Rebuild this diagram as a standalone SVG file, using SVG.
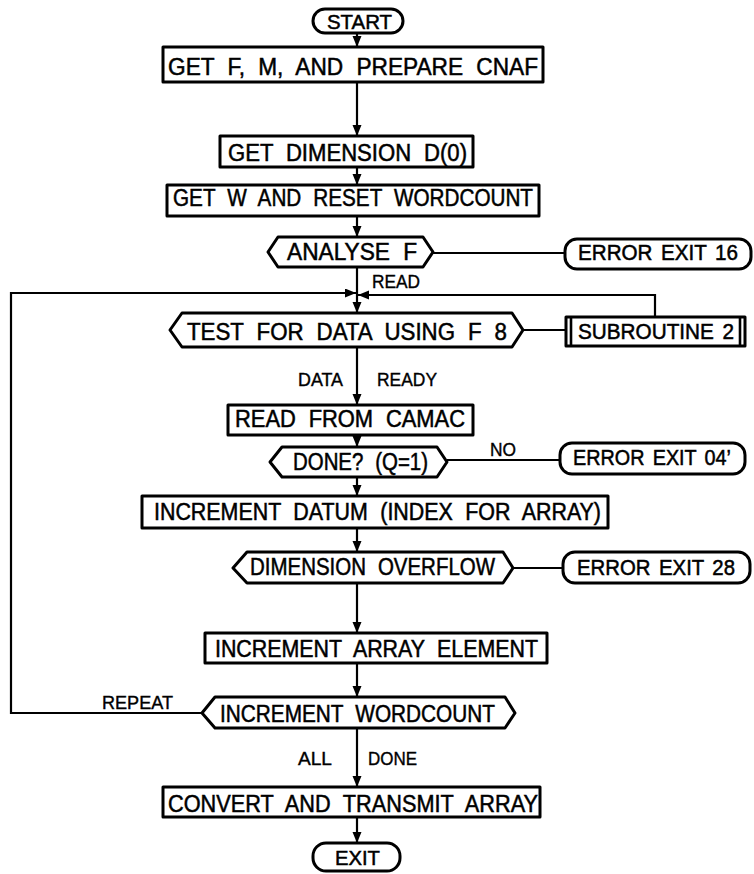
<svg xmlns="http://www.w3.org/2000/svg" width="754" height="874" viewBox="0 0 754 874">
  <style>
    .shape { fill: #fff; stroke: #000; stroke-width: 3; stroke-linejoin: round; }
    .wire { fill: none; stroke: #000; stroke-width: 2.2; }
    .bar { fill: none; stroke: #000; stroke-width: 2.6; }
    .t { font-family: "Liberation Sans", Arial, sans-serif; font-size: 23px; word-spacing: 7px; fill: #000; stroke: #000; stroke-width: 0.5; text-anchor: middle; }
    .e { font-family: "Liberation Sans", Arial, sans-serif; font-size: 21.5px; word-spacing: 3px; fill: #000; stroke: #000; stroke-width: 0.5; text-anchor: middle; }
    .s { font-family: "Liberation Sans", Arial, sans-serif; font-size: 19px; fill: #000; stroke: #000; stroke-width: 0.4; text-anchor: middle; }
  </style>
  <defs>
    <marker id="arrow" markerUnits="userSpaceOnUse" markerWidth="12" markerHeight="10" refX="11" refY="4.5" orient="auto">
      <path d="M0,0 L11,4.5 L0,9 Z" fill="#000"/>
    </marker>
  </defs>

  <!-- connectors -->
  <g id="connectors">
    <line class="wire" x1="357" y1="33" x2="357" y2="47" marker-end="url(#arrow)"/>
    <line class="wire" x1="357" y1="82" x2="357" y2="136" marker-end="url(#arrow)"/>
    <line class="wire" x1="357" y1="167" x2="357" y2="185" marker-end="url(#arrow)"/>
    <line class="wire" x1="357" y1="216" x2="357" y2="237" marker-end="url(#arrow)"/>
    <line class="wire" x1="433" y1="253" x2="565" y2="253"/>
    <line class="wire" x1="357" y1="267" x2="357" y2="313" marker-end="url(#arrow)"/>
    <polyline class="wire" points="202,713 11,713 11,293 356,293" marker-end="url(#arrow)"/>
    <polyline class="wire" points="655,317 655,295 358,295" marker-end="url(#arrow)"/>
    <line class="wire" x1="523" y1="330" x2="566" y2="330"/>
    <line class="wire" x1="357" y1="347" x2="357" y2="405" marker-end="url(#arrow)"/>
    <line class="wire" x1="357" y1="435" x2="357" y2="447" marker-end="url(#arrow)"/>
    <line class="wire" x1="447" y1="460" x2="560" y2="460"/>
    <line class="wire" x1="357" y1="477" x2="357" y2="496" marker-end="url(#arrow)"/>
    <line class="wire" x1="357" y1="528" x2="357" y2="552" marker-end="url(#arrow)"/>
    <line class="wire" x1="513" y1="568" x2="563" y2="568"/>
    <line class="wire" x1="357" y1="583" x2="357" y2="633" marker-end="url(#arrow)"/>
    <line class="wire" x1="357" y1="663" x2="357" y2="697" marker-end="url(#arrow)"/>
    <line class="wire" x1="357" y1="728" x2="357" y2="787" marker-end="url(#arrow)"/>
    <line class="wire" x1="357" y1="817" x2="357" y2="843" marker-end="url(#arrow)"/>
    <text class="s" x="396" y="288" textLength="48" lengthAdjust="spacingAndGlyphs">READ</text>
    <text class="s" x="320.5" y="386" textLength="45" lengthAdjust="spacingAndGlyphs">DATA</text>
    <text class="s" x="407" y="386" textLength="60" lengthAdjust="spacingAndGlyphs">READY</text>
    <text class="s" x="503" y="456" textLength="26" lengthAdjust="spacingAndGlyphs">NO</text>
    <text class="s" x="137.5" y="709" textLength="71" lengthAdjust="spacingAndGlyphs">REPEAT</text>
    <text class="s" x="315" y="765" textLength="34" lengthAdjust="spacingAndGlyphs">ALL</text>
    <text class="s" x="392.5" y="765" textLength="49" lengthAdjust="spacingAndGlyphs">DONE</text>
  </g>

  <!-- nodes -->
  <g id="start">
    <rect class="shape" x="313" y="9" width="90" height="24" rx="12"/>
    <text class="t" style="font-size:21px" x="359.5" y="29" textLength="65" lengthAdjust="spacingAndGlyphs">START</text>
  </g>
  <g id="get-f-m">
    <rect class="shape" x="163" y="47" width="380" height="35"/>
    <text class="t" x="353" y="75" textLength="370" lengthAdjust="spacingAndGlyphs">GET F, M, AND PREPARE CNAF</text>
  </g>
  <g id="get-dimension">
    <rect class="shape" x="220" y="136" width="253" height="31"/>
    <text class="t" x="347.5" y="161" textLength="239" lengthAdjust="spacingAndGlyphs">GET DIMENSION D(0)</text>
  </g>
  <g id="get-w">
    <rect class="shape" x="167" y="185" width="372" height="31"/>
    <text class="t" x="353" y="206" textLength="360" lengthAdjust="spacingAndGlyphs">GET W AND RESET WORDCOUNT</text>
  </g>
  <g id="analyse-f">
    <polygon class="shape" points="268,252 278,237 423,237 433,252 423,267 278,267"/>
    <text class="t" x="352" y="260" textLength="130" lengthAdjust="spacingAndGlyphs">ANALYSE F</text>
  </g>
  <g id="error-exit-16">
    <rect class="shape" x="565" y="239" width="186" height="30" rx="12"/>
    <text class="e" x="658" y="260" textLength="160" lengthAdjust="spacingAndGlyphs">ERROR EXIT 16</text>
  </g>
  <g id="test-for-data">
    <polygon class="shape" points="170,330 182,313 512,313 523,330 512,347 182,347"/>
    <text class="t" x="347" y="340" textLength="320" lengthAdjust="spacingAndGlyphs">TEST FOR DATA USING F 8</text>
  </g>
  <g id="subroutine-2">
    <rect class="shape" x="566" y="317" width="179" height="29"/>
    <line class="bar" x1="571" y1="317" x2="571" y2="346"/>
    <line class="bar" x1="740" y1="317" x2="740" y2="346"/>
    <text class="e" x="656" y="339" textLength="156" lengthAdjust="spacingAndGlyphs">SUBROUTINE 2</text>
  </g>
  <g id="read-from-camac">
    <rect class="shape" x="228" y="405" width="245" height="30"/>
    <text class="t" x="350" y="427" textLength="230" lengthAdjust="spacingAndGlyphs">READ FROM CAMAC</text>
  </g>
  <g id="done-q">
    <polygon class="shape" points="270,462 282,447 437,447 447,462 437,477 282,477"/>
    <text class="t" x="360.5" y="470" textLength="135" lengthAdjust="spacingAndGlyphs">DONE? (Q=1)</text>
  </g>
  <g id="error-exit-04">
    <rect class="shape" x="560" y="443" width="185" height="31" rx="12"/>
    <text class="e" x="652" y="465" textLength="158" lengthAdjust="spacingAndGlyphs">ERROR EXIT 04’</text>
  </g>
  <g id="increment-datum">
    <rect class="shape" x="142" y="496" width="466" height="32"/>
    <text class="t" x="377.5" y="520" textLength="447" lengthAdjust="spacingAndGlyphs">INCREMENT DATUM (INDEX FOR ARRAY)</text>
  </g>
  <g id="dimension-overflow">
    <polygon class="shape" points="233,568 247,552 503,552 513,568 503,583 247,583"/>
    <text class="t" x="372.5" y="575" textLength="245" lengthAdjust="spacingAndGlyphs">DIMENSION OVERFLOW</text>
  </g>
  <g id="error-exit-28">
    <rect class="shape" x="563" y="552" width="187" height="31" rx="12"/>
    <text class="e" x="656" y="575" textLength="158" lengthAdjust="spacingAndGlyphs">ERROR EXIT 28</text>
  </g>
  <g id="increment-array-element">
    <rect class="shape" x="205" y="633" width="342" height="30"/>
    <text class="t" x="376.5" y="657" textLength="323" lengthAdjust="spacingAndGlyphs">INCREMENT ARRAY ELEMENT</text>
  </g>
  <g id="increment-wordcount">
    <polygon class="shape" points="202,713 215,697 505,697 515,713 505,728 215,728"/>
    <text class="t" x="357.5" y="722" textLength="275" lengthAdjust="spacingAndGlyphs">INCREMENT WORDCOUNT</text>
  </g>
  <g id="convert-transmit">
    <rect class="shape" x="163" y="787" width="377" height="30"/>
    <text class="t" x="353" y="812" textLength="370" lengthAdjust="spacingAndGlyphs">CONVERT AND TRANSMIT ARRAY</text>
  </g>
  <g id="exit">
    <rect class="shape" x="313" y="843" width="87" height="28" rx="13"/>
    <text class="t" style="font-size:21px" x="357.5" y="865" textLength="45" lengthAdjust="spacingAndGlyphs">EXIT</text>
  </g>
</svg>
